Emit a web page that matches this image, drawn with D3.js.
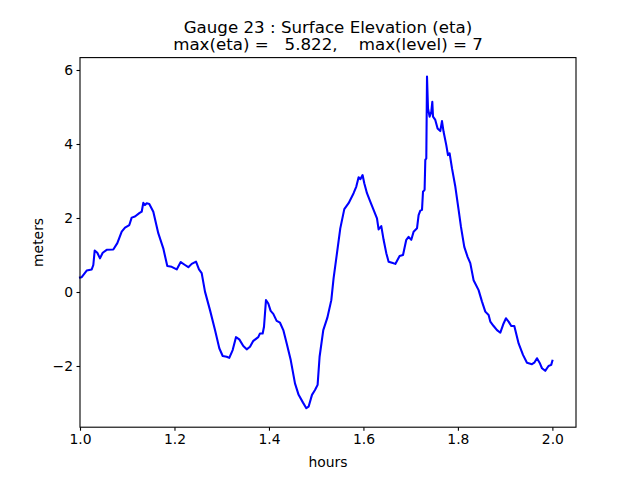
<!DOCTYPE html>
<html>
<head>
<meta charset="utf-8">
<script src="https://cdn.jsdelivr.net/npm/d3@7"></script>
<style>
  body { margin: 0; background: #fff; }
  svg text { font-family: "DejaVu Sans", sans-serif; fill: #000; }
</style>
</head>
<body>
<div id="chart"></div>
<script>
// Gauge 23 time series
const hours = [
  1.0000, 1.0036, 1.0142, 1.0248, 1.0282, 1.0311, 1.0366, 1.0423, 1.0481, 1.0565,
  1.0705, 1.0790, 1.0883, 1.0953, 1.1044, 1.1094, 1.1164, 1.1255, 1.1306, 1.1340,
  1.1376, 1.1412, 1.1467, 1.1552, 1.1657, 1.1763, 1.1848, 1.1941, 1.2047, 1.2132,
  1.2223, 1.2293, 1.2365, 1.2456, 1.2519, 1.2576, 1.2646, 1.2752, 1.2858, 1.2949,
  1.3021, 1.3105, 1.3160, 1.3232, 1.3302, 1.3372, 1.3457, 1.3529, 1.3599, 1.3669,
  1.3774, 1.3810, 1.3867, 1.3895, 1.3937, 1.3986, 1.4036, 1.4092, 1.4163, 1.4234,
  1.4304, 1.4376, 1.4461, 1.4551, 1.4628, 1.4721, 1.4791, 1.4839, 1.4911, 1.4975,
  1.5030, 1.5072, 1.5150, 1.5235, 1.5320, 1.5368, 1.5440, 1.5510, 1.5595, 1.5686,
  1.5792, 1.5849, 1.5898, 1.5934, 1.5982, 1.6018, 1.6075, 1.6145, 1.6215, 1.6287,
  1.6321, 1.6378, 1.6427, 1.6484, 1.6533, 1.6605, 1.6675, 1.6766, 1.6838, 1.6907,
  1.6956, 1.7013, 1.7062, 1.7134, 1.7168, 1.7204, 1.7240, 1.7261, 1.7295, 1.7310,
  1.7331, 1.7346, 1.7367, 1.7401, 1.7437, 1.7458, 1.7473, 1.7521, 1.7570, 1.7627,
  1.7663, 1.7697, 1.7754, 1.7790, 1.7824, 1.7875, 1.7945, 1.8015, 1.8065, 1.8135,
  1.8205, 1.8262, 1.8332, 1.8438, 1.8510, 1.8580, 1.8650, 1.8686, 1.8756, 1.8828,
  1.8898, 1.8967, 1.9018, 1.9073, 1.9130, 1.9194, 1.9285, 1.9378, 1.9462, 1.9568,
  1.9617, 1.9674, 1.9729, 1.9780, 1.9848, 1.9918, 1.9975, 2.0000
];
const eta = [
  0.39, 0.40, 0.58, 0.61, 0.73, 1.12, 1.06, 0.91, 1.06, 1.14,
  1.15, 1.32, 1.63, 1.74, 1.81, 2.01, 2.04, 2.13, 2.17, 2.41,
  2.35, 2.40, 2.38, 2.17, 1.59, 1.18, 0.70, 0.68, 0.61, 0.81,
  0.73, 0.67, 0.76, 0.82, 0.61, 0.51, 0.01, -0.49, -1.03, -1.52,
  -1.73, -1.75, -1.78, -1.57, -1.22, -1.28, -1.46, -1.55, -1.48, -1.32,
  -1.22, -1.12, -1.12, -0.94, -0.22, -0.31, -0.51, -0.59, -0.78, -0.83,
  -1.03, -1.39, -1.84, -2.47, -2.78, -2.99, -3.14, -3.10, -2.78, -2.65,
  -2.51, -1.75, -1.03, -0.70, -0.22, 0.37, 1.05, 1.72, 2.24, 2.40,
  2.67, 2.85, 3.10, 3.05, 3.16, 2.94, 2.67, 2.44, 2.22, 1.99,
  1.69, 1.78, 1.41, 1.05, 0.82, 0.79, 0.76, 0.97, 1.00, 1.41,
  1.49, 1.41, 1.63, 1.72, 2.08, 2.20, 2.22, 2.71, 2.76, 3.57,
  3.61, 5.822, 4.96, 4.74, 4.87, 5.14, 4.74, 4.65, 4.42, 4.35,
  4.62, 4.33, 3.97, 3.70, 3.75, 3.34, 2.85, 2.22, 1.76, 1.22,
  0.95, 0.78, 0.32, 0.05, -0.26, -0.53, -0.62, -0.80, -0.92, -1.03,
  -1.10, -0.85, -0.71, -0.80, -0.92, -0.92, -1.39, -1.70, -1.91, -1.95,
  -1.91, -1.79, -1.91, -2.06, -2.13, -2.00, -1.97, -1.86
];
const xTicks = [1.0, 1.2, 1.4, 1.6, 1.8, 2.0];
const yTicks = [-2, 0, 2, 4, 6];
const titleLines = [
  "Gauge 23 : Surface Elevation (eta)",
  "max(eta) =   5.822,    max(level) = 7"
];

const width = 640, height = 480;
const margin = { top: 57.6, right: 64, bottom: 52.8, left: 80 };
const fontPx = 13.9;
const titlePx = 16.67;

const svg = d3.select('#chart')
  .append('svg')
  .attr('width', width)
  .attr('height', height)
  .style('background', '#fff');

const x = d3.scaleLinear()
  .domain([1.0, 2.05])
  .range([margin.left, width - margin.right]);

const y = d3.scaleLinear()
  .domain([-3.654, 6.335])
  .range([height - margin.bottom, margin.top]);

const fmtMinus = v => (v < 0 ? '\u2212' : '') + Math.abs(v);

// Axes
const xAxis = svg.append('g')
  .attr('transform', `translate(0,${height - margin.bottom})`)
  .call(d3.axisBottom(x).tickValues(xTicks).tickFormat(d3.format('.1f'))
    .tickSize(3.5).tickPadding(3.5).tickSizeOuter(0));

const yAxis = svg.append('g')
  .attr('transform', `translate(${margin.left},0)`)
  .call(d3.axisLeft(y).tickValues(yTicks).tickFormat(fmtMinus)
    .tickSize(3.5).tickPadding(3.5).tickSizeOuter(0));

[xAxis, yAxis].forEach(a => {
  a.select('.domain').remove();
  a.selectAll('.tick line').attr('stroke', '#000').attr('stroke-width', 1.1);
  a.selectAll('.tick text')
    .style('font-family', '"DejaVu Sans", sans-serif')
    .style('font-size', fontPx + 'px')
    .attr('fill', '#000');
});

// Data line
const line = d3.line()
  .x((d, i) => x(hours[i]))
  .y(d => y(d));

svg.append('path')
  .datum(eta)
  .attr('fill', 'none')
  .attr('stroke', '#0000ff')
  .attr('stroke-width', 2.08)
  .attr('stroke-linejoin', 'round')
  .attr('stroke-linecap', 'square')
  .attr('d', line);

// Frame
svg.append('rect')
  .attr('x', margin.left)
  .attr('y', margin.top)
  .attr('width', width - margin.left - margin.right)
  .attr('height', height - margin.top - margin.bottom)
  .attr('fill', 'none')
  .attr('stroke', '#000')
  .attr('stroke-width', 1.1);

// Title
const cx = (margin.left + width - margin.right) / 2;
svg.append('text')
  .attr('text-anchor', 'middle')
  .style('font-size', titlePx + 'px')
  .style('white-space', 'pre')
  .selectAll('tspan')
  .data(titleLines)
  .join('tspan')
  .attr('x', cx)
  .attr('y', (d, i) => 33 + i * 16.5)
  .text(d => d);

// Axis labels
svg.append('text')
  .attr('x', cx)
  .attr('y', 466.5)
  .attr('text-anchor', 'middle')
  .style('font-size', fontPx + 'px')
  .text('hours');

svg.append('text')
  .attr('transform', `translate(42.5,${(margin.top + height - margin.bottom) / 2}) rotate(-90)`)
  .attr('text-anchor', 'middle')
  .style('font-size', fontPx + 'px')
  .text('meters');
</script>
</body>
</html>
